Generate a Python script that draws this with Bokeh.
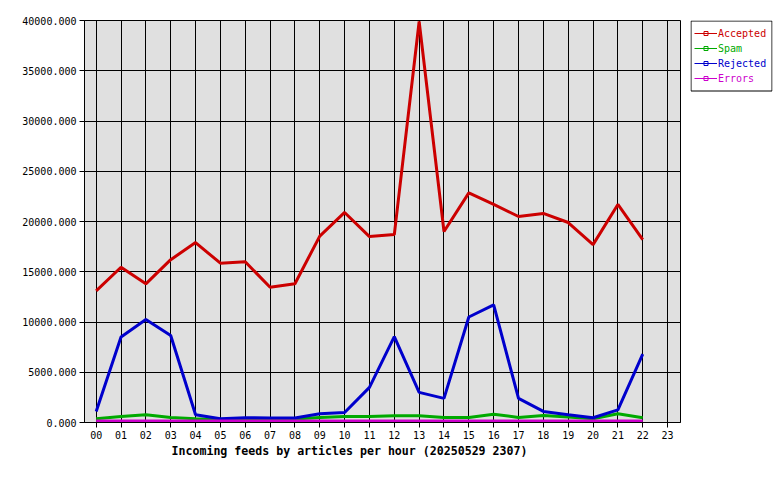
from bokeh.plotting import figure
from bokeh.models import (Range1d, FixedTicker, PrintfTickFormatter, Legend, LegendItem,
                          Title, ColumnDataSource, BoxAnnotation)
from bokeh.layouts import row
from bokeh.embed import file_html
from bokeh.resources import INLINE

hour_labels = ["00", "01", "02", "03", "04", "05", "06", "07", "08", "09", "10", "11",
               "12", "13", "14", "15", "16", "17", "18", "19", "20", "21", "22", "23"]
hours = [0, 1, 2, 3, 4, 5, 6, 7, 8, 9, 10, 11, 12, 13, 14, 15, 16, 17, 18, 19, 20, 21, 22]
accepted = [13100, 15450, 13800, 16200, 17900, 15850, 16000, 13450, 13800, 18550, 20900, 18500,
            18700, 39900, 19000, 22850, 21700, 20500, 20800, 19900, 17700, 21700, 18200]
spam = [370, 600, 770, 500, 370, 270, 270, 300, 350, 500, 600, 600,
        670, 670, 500, 500, 830, 500, 700, 550, 370, 870, 470]
rejected = [1100, 8500, 10250, 8650, 770, 370, 470, 450, 450, 870, 1000, 3500,
            8550, 3000, 2400, 10500, 11700, 2400, 1100, 770, 470, 1260, 6800]
errors = [150, 150, 150, 150, 150, 150, 150, 150, 150, 150, 150, 150,
          150, 150, 150, 150, 150, 150, 150, 150, 150, 150, 150]
series_names = ["Accepted", "Spam", "Rejected", "Errors"]
series_colors = ["#cc0000", "#00aa00", "#0000cc", "#cc00cc"]
y_ticks = [0, 5000, 10000, 15000, 20000, 25000, 30000, 35000, 40000]
title_text = "Incoming feeds by articles per hour (20250529 2307)"

MONO = "DejaVu Sans Mono"
TOP, BOTTOM, HEIGHT = 20, 48, 470
FRAME_H = HEIGHT - TOP - BOTTOM

p = figure(width=686, height=HEIGHT, output_backend="svg", toolbar_location=None,
           x_range=Range1d(-0.47, 23.52), y_range=Range1d(0, 40000),
           min_border_left=84, min_border_top=TOP, min_border_right=6, min_border_bottom=BOTTOM)
p.background_fill_color = "#e0e0e0"
p.border_fill_color = "white"
p.outline_line_color = "black"
p.outline_line_width = 1

p.xaxis.ticker = FixedTicker(ticks=list(range(len(hour_labels))))
p.xaxis.major_label_overrides = {i: lab for i, lab in enumerate(hour_labels)}
p.yaxis.ticker = FixedTicker(ticks=y_ticks)
p.yaxis.formatter = PrintfTickFormatter(format="%.3f")
for ax in (p.xaxis[0], p.yaxis[0]):
    ax.major_label_text_font = MONO
    ax.major_label_text_font_size = "10px"
    ax.major_label_text_color = "black"
    ax.axis_line_color = "black"
    ax.major_tick_line_color = "black"
    ax.major_tick_out = 5
    ax.major_tick_in = 0
    ax.minor_tick_line_color = None
    ax.major_label_standoff = 3
p.grid.grid_line_color = "black"
p.grid.grid_line_alpha = 1.0
p.grid.grid_line_width = 1

series = [accepted, spam, rejected, errors]
for vals, col in zip(series, series_colors):
    src = ColumnDataSource(dict(x=hours, y=vals))
    p.line("x", "y", source=src, line_color=col, line_width=3)

t = Title(text=title_text, align="left", offset=87, text_font=MONO, text_font_size="11.6px",
          text_font_style="bold", standoff=1, text_color="black")
p.add_layout(t, "below")

# legend panel (same vertical borders as the main plot)
p2 = figure(width=88, height=HEIGHT, output_backend="svg", toolbar_location=None,
            x_range=Range1d(0, 82), y_range=Range1d(FRAME_H, 0),
            x_axis_location=None, y_axis_location=None,
            min_border_left=4, min_border_right=2, min_border_top=TOP, min_border_bottom=BOTTOM)
p2.grid.visible = False
p2.background_fill_color = "white"
p2.border_fill_color = "white"
p2.outline_line_color = None

box = BoxAnnotation(left=0.5, right=81.5, top=0.5, bottom=70.5,
                    fill_color="white", fill_alpha=1.0, line_color="black", line_alpha=1.0,
                    line_width=1)
p2.add_layout(box)

# legend proxy renderers: their points sit outside the legend panel's visible range
proxy_x = [-10, -9]
proxy_y = [-10, -10]
for i, (name, col) in enumerate(zip(series_names, series_colors)):
    lr = p2.line(x=proxy_x, y=proxy_y, line_color=col, line_width=1)
    mr = p2.scatter(x=proxy_x, y=proxy_y, marker="square", size=4, fill_color=None,
                    line_color=col, line_width=1)
    leg = Legend(items=[LegendItem(label=name, renderers=[lr, mr], index=0)],
                 location=(4, FRAME_H - 18.8 - 15 * i), padding=0, margin=0, spacing=0,
                 glyph_width=23, glyph_height=10, label_height=10, label_standoff=1,
                 label_text_font=MONO, label_text_font_size="10px", label_text_color=col,
                 border_line_alpha=0, background_fill_alpha=0)
    p2.add_layout(leg)

layout = row(p, p2)
open("out.html", "w").write(file_html(layout, INLINE))
